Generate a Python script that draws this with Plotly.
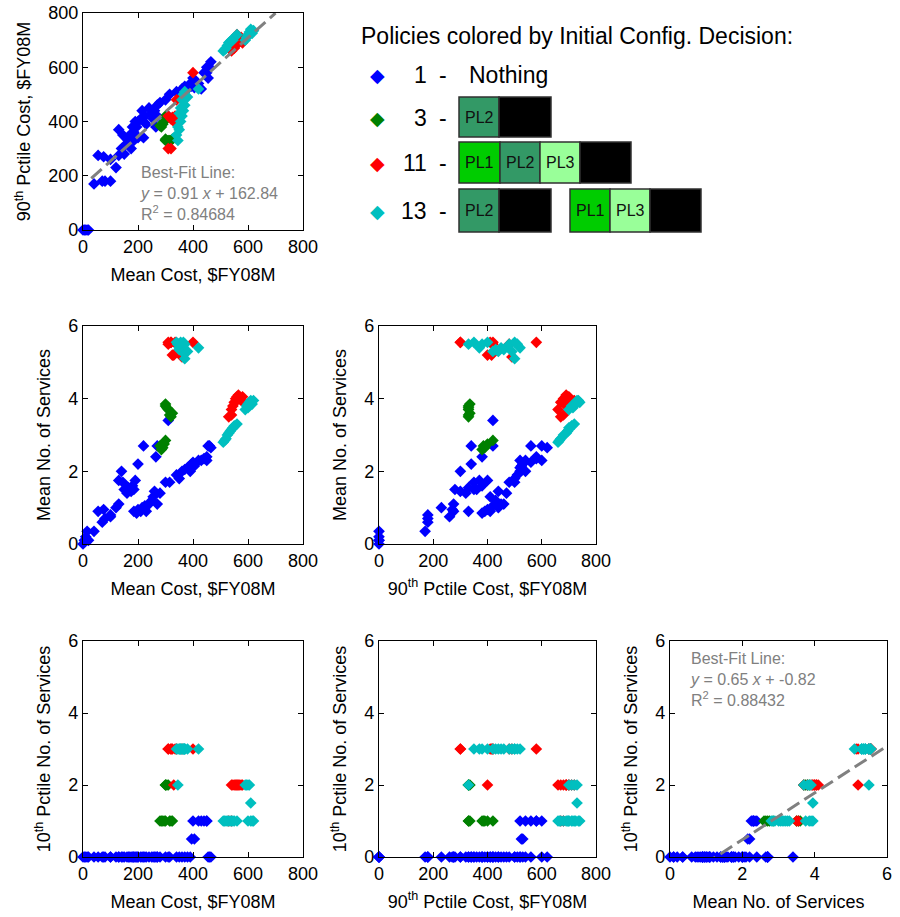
import plotly.graph_objects as go

# ---------------- data (one entry per policy) ----------------
# Config 1 - Nothing (blue)
blue_mean_cost = [0, 5, 10, 15, 20, 40, 55, 70, 75, 80, 100, 120, 100, 130, 130, 140, 145, 150, 160, 165,
                  170, 175, 180, 185, 190, 200, 210, 185, 195, 200, 215, 220, 225, 230, 240, 250, 255, 260,
                  265, 270, 270, 280, 300, 310, 315, 340, 350, 360, 370, 380, 390, 395, 405, 400, 420, 440,
                  450, 455, 460, 465, 430, 450]
blue_p90_cost = [0, 0, 0, 0, 0, 170, 275, 180, 270, 180, 180, 230, 260, 275, 370, 300, 350, 280, 320, 330,
                 350, 300, 380, 360, 400, 340, 410, 330, 380, 400, 440, 340, 420, 390, 450, 430, 410, 440,
                 380, 420, 460, 470, 480, 420, 500, 510, 500, 520, 530, 520, 540, 530, 525, 560, 540, 580,
                 600, 560, 600, 620, 520, 580]
blue_mean_svc = [0.0, 0.1, 0.2, 0.35, 0.1, 0.35, 0.9, 0.6, 0.95, 0.7, 0.8, 1.0, 0.75, 1.1, 1.75, 2.0, 1.7, 1.5,
                 1.4, 1.55, 1.5, 1.45, 1.6, 1.5, 1.75, 2.2, 0.9, 0.9, 0.85, 0.95, 1.0, 2.7, 1.05, 0.9, 1.1,
                 1.2, 1.3, 1.45, 2.4, 2.7, 1.1, 1.4, 1.7, 3.4, 1.7, 1.9, 1.8, 2.0, 2.05, 2.1, 2.0, 2.2, 2.15,
                 2.25, 2.3, 2.35, 2.3, 2.7, 2.7, 2.65, 2.3, 2.4]
blue_p10_svc = [0, 0, 0, 0, 0, 0, 0, 0, 0, 0, 0, 0, 0, 0, 0, 0, 0, 0, 0, 0,
                0, 0, 0, 0, 0, 0, 0, 0, 0, 0, 0, 0, 0, 0, 0, 0, 0, 0, 0, 0,
                0, 0, 0, 0, 0, 0, 0, 0, 0, 0, 0, 0.5, 0.5, 1, 1, 1, 1, 0, 0, 0, 1, 1]

# Config 3 (green)
green_mean_cost = [300, 305, 310, 300, 315, 320, 325, 285, 290, 295, 300, 280]
green_p90_cost = [330, 330, 330, 335, 330, 330, 335, 380, 390, 400, 420, 385]
green_mean_svc = [3.8, 3.75, 3.7, 3.85, 3.55, 3.5, 3.6, 2.6, 2.65, 2.75, 2.85, 2.7]
green_p10_svc = [2, 2, 2, 2, 1, 1, 1, 1, 1, 1, 1, 1]

# Config 11 (red)
red_mean_cost = [310, 320, 330, 335, 340, 360, 400, 320, 310, 325, 530, 540, 545, 550, 555, 560, 565, 570,
                 575, 580, 540, 560]
red_p90_cost = [300, 300, 400, 420, 480, 490, 580, 410, 420, 415, 670, 680, 690, 670, 680, 700, 690, 700,
                710, 690, 660, 720]
red_mean_svc = [5.55, 5.55, 5.2, 5.55, 5.5, 5.15, 5.55, 5.55, 5.5, 5.2, 3.5, 3.55, 3.8, 3.9, 4.0, 4.05, 4.1,
                4.0, 3.95, 4.05, 3.7, 3.95]
red_p10_svc = [3, 3, 2, 3, 3, 3, 3, 3, 3, 3, 1, 1, 2, 2, 2, 2, 2, 2, 2, 2, 2, 2]

# Config 13 (cyan)
cyan_mean_cost = [345, 340, 350, 355, 360, 350, 365, 355, 370, 360, 365, 370, 370, 420, 380, 345,
                  510, 520, 525, 530, 535, 540, 545, 550, 560, 515, 590, 595, 600, 605, 610, 600, 610, 615, 620]
cyan_p90_cost = [330, 350, 370, 400, 420, 430, 440, 450, 460, 480, 500, 510, 500, 520, 490, 380,
                 660, 670, 680, 690, 695, 700, 700, 710, 720, 665, 700, 710, 720, 730, 730, 715, 740, 725, 735]
cyan_mean_svc = [5.5, 5.55, 5.4, 5.55, 5.3, 5.35, 5.3, 5.4, 5.35, 5.5, 5.55, 5.5, 5.1, 5.4, 5.3, 5.5,
                 2.8, 2.9, 3.0, 3.05, 3.1, 3.15, 3.2, 3.25, 3.3, 2.85, 3.7, 3.8, 3.85, 3.9, 3.95, 3.75, 3.9, 3.85,
                 3.95]
cyan_p10_svc = [2, 3, 3, 3, 3, 3, 3, 3, 3, 3, 3, 3, 3, 3, 3, 3,
                1, 1, 1, 1, 1, 1, 1, 1, 1, 1, 2, 2, 2, 2, 1.5, 1, 1, 1, 1]

fit1_slope, fit1_icpt, fit1_r2 = 0.91, 162.84, 0.84684
fit1_x = [30, 700]
fit6_slope, fit6_icpt, fit6_r2 = 0.65, -0.82, 0.88432
fit6_x = [0, 6]

cost_ticks = [0, 200, 400, 600, 800]
svc_ticks = [0, 2, 4, 6]

legend_labels = ["1", "3", "11", "13"]
pl_colors = {"PL1": "#00CC00", "PL2": "#339966", "PL3": "#99FF99"}

# ---------------- figure ----------------
groups = [
    ("#0000FF", blue_mean_cost, blue_p90_cost, blue_mean_svc, blue_p10_svc),
    ("#008000", green_mean_cost, green_p90_cost, green_mean_svc, green_p10_svc),
    ("#FF0000", red_mean_cost, red_p90_cost, red_mean_svc, red_p10_svc),
    ("#00BFBF", cyan_mean_cost, cyan_p90_cost, cyan_mean_svc, cyan_p10_svc),
]

FONT = "Liberation Sans, Arial, sans-serif"
W, H = 900, 917

def px(x):
    return x / W

def py(y):
    return 1 - y / H

cols = [(83, 303), (379, 596), (670, 887)]
rows = [(13, 230), (326, 544), (641, 857)]

MC = "Mean Cost, $FY08M"
P90 = "90<sup>th</sup> Pctile Cost, $FY08M"
MS = "Mean No. of Services"
P10 = "10<sup>th</sup> Pctile No. of Services"

# (col, row, x-index, y-index, xtitle, ytitle, xticks, yticks)
panels = [
    (0, 0, 1, 2, MC, P90, cost_ticks, cost_ticks),
    (0, 1, 1, 3, MC, MS, cost_ticks, svc_ticks),
    (1, 1, 2, 3, P90, MS, cost_ticks, svc_ticks),
    (0, 2, 1, 4, MC, P10, cost_ticks, svc_ticks),
    (1, 2, 2, 4, P90, P10, cost_ticks, svc_ticks),
    (2, 2, 3, 4, MS, P10, svc_ticks, svc_ticks),
]

fig = go.Figure()
layout = dict(
    width=W, height=H, margin=dict(l=0, r=0, t=0, b=0),
    paper_bgcolor="white", plot_bgcolor="white", showlegend=False,
    font=dict(family=FONT, size=18, color="black"),
)

def axis_common(ticks, title, domain, anchor, standoff):
    return dict(
        domain=domain, anchor=anchor, range=[ticks[0], ticks[-1]],
        tickvals=ticks, ticktext=[str(t) for t in ticks],
        ticks="inside", ticklen=5, tickwidth=1, tickcolor="black",
        showline=True, linecolor="black", linewidth=1.2, mirror="allticks",
        showgrid=False, zeroline=False, fixedrange=True,
        tickfont=dict(family=FONT, size=18, color="black"),
        title=dict(text=title, font=dict(family=FONT, size=18, color="black"), standoff=standoff),
        automargin=False,
    )

for i, (c, r, xi, yi, xt, yt, xtk, ytk) in enumerate(panels):
    n = i + 1
    xa = "x" if n == 1 else f"x{n}"
    ya = "y" if n == 1 else f"y{n}"
    for color, mc, p90, ms, p10 in groups:
        cols_data = {1: mc, 2: p90, 3: ms, 4: p10}
        fig.add_trace(go.Scatter(
            x=cols_data[xi], y=cols_data[yi], mode="markers", xaxis=xa, yaxis=ya,
            marker=dict(symbol="diamond", size=9, color=color, line=dict(width=0)),
            cliponaxis=False, hoverinfo="skip"))
    layout["xaxis" if n == 1 else f"xaxis{n}"] = axis_common(
        xtk, xt, [px(cols[c][0]), px(cols[c][1])], ya, 12)
    layout["yaxis" if n == 1 else f"yaxis{n}"] = axis_common(
        ytk, yt, [py(rows[r][1]), py(rows[r][0])], xa, 12)

# best-fit lines
fig.add_trace(go.Scatter(x=fit1_x, y=[fit1_slope * v + fit1_icpt for v in fit1_x], mode="lines",
                         xaxis="x", yaxis="y", line=dict(color="#808080", width=3, dash="14px,6px"),
                         hoverinfo="skip"))
fig.add_trace(go.Scatter(x=fit6_x, y=[fit6_slope * v + fit6_icpt for v in fit6_x], mode="lines",
                         xaxis="x6", yaxis="y6", line=dict(color="#808080", width=3, dash="14px,6px"),
                         hoverinfo="skip"))

annotations = []
gray = "#808080"
annotations.append(dict(
    xref="x", yref="y", x=200, y=252, xanchor="left", yanchor="top", align="left", showarrow=False,
    text=f"Best-Fit Line:<br><i>y</i> = {fit1_slope:.2f} <i>x</i> + {fit1_icpt:.2f}<br>R<sup>2</sup> = {fit1_r2}",
    font=dict(family=FONT, size=16, color=gray)))
annotations.append(dict(
    xref="x6", yref="y6", x=0.5, y=5.8, xanchor="left", yanchor="top", align="left", showarrow=False,
    text=f"Best-Fit Line:<br><i>y</i> = {fit6_slope:.2f} <i>x</i> + {fit6_icpt:.2f}<br>R<sup>2</sup> = {fit6_r2}",
    font=dict(family=FONT, size=16, color=gray)))

# ---------------- custom legend ----------------
annotations.append(dict(xref="paper", yref="paper", x=px(359), y=py(36), xanchor="left", yanchor="middle",
                        showarrow=False, text="Policies colored by Initial Config. Decision:",
                        font=dict(family=FONT, size=23, color="black")))
row_y = [75, 118, 163, 211]
colors = [g[0] for g in groups]
for lab, yy, colr in zip(legend_labels, row_y, colors):
    annotations.append(dict(xref="paper", yref="paper", x=px(377), y=py(yy), xanchor="center",
                            yanchor="middle", showarrow=False, text="\u25C6",
                            font=dict(family="DejaVu Sans", size=19, color=colr)))
    annotations.append(dict(xref="paper", yref="paper", x=px(429), y=py(yy), xanchor="right",
                            yanchor="middle", showarrow=False, text=lab,
                            font=dict(family=FONT, size=23, color="black")))
    annotations.append(dict(xref="paper", yref="paper", x=px(443), y=py(yy), xanchor="center",
                            yanchor="middle", showarrow=False, text="-",
                            font=dict(family=FONT, size=23, color="black")))
annotations.append(dict(xref="paper", yref="paper", x=px(467), y=py(75), xanchor="left", yanchor="middle",
                        showarrow=False, text="Nothing", font=dict(family=FONT, size=23, color="black")))

# box sequences: (y_top, y_bottom, [(x0, x1, label)])
box_rows = [
    (97, 137, [(459, 499, "PL2"), (499, 551, "")]),
    (142, 183, [(459, 500, "PL1"), (500, 540, "PL2"), (540, 580, "PL3"), (580, 631, "")]),
    (189, 232, [(459, 499, "PL2"), (499, 551, ""), (570, 610, "PL1"), (610, 650, "PL3"), (650, 701, "")]),
]
shapes = []
for y0, y1, boxes in box_rows:
    for x0, x1, lab in boxes:
        fill = pl_colors.get(lab, "black")
        shapes.append(dict(type="rect", xref="paper", yref="paper", x0=px(x0), x1=px(x1),
                           y0=py(y1), y1=py(y0), fillcolor=fill, line=dict(color="#303030", width=1.5),
                           layer="above"))
        if lab:
            annotations.append(dict(xref="paper", yref="paper", x=px(x0 + 4), y=py((y0 + y1) / 2),
                                    xanchor="left", yanchor="middle", showarrow=False, text=lab,
                                    font=dict(family=FONT, size=16, color="#111111")))

layout["annotations"] = annotations
layout["shapes"] = shapes
fig.update_layout(**layout)
fig.write_html("out.html")
